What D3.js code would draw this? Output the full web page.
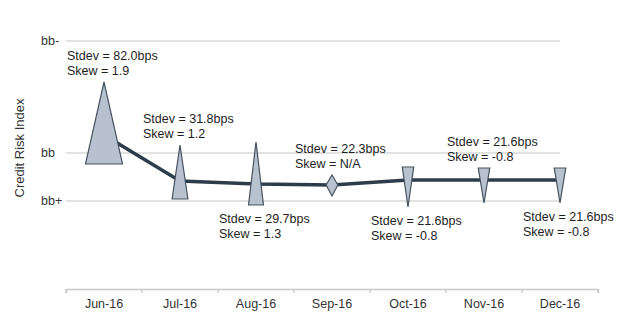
<!DOCTYPE html>
<html>
<head>
<meta charset="utf-8">
<script src="https://cdn.jsdelivr.net/npm/d3@7"></script>
<style>
  html, body { margin: 0; padding: 0; background: #fff; }
  svg { display: block; }
  text { font-family: "Liberation Sans", Arial, sans-serif; }
</style>
</head>
<body>
<svg id="chart" width="622" height="328"></svg>
<script>
// ---- data ----
const months = ["Jun-16", "Jul-16", "Aug-16", "Sep-16", "Oct-16", "Nov-16", "Dec-16"];
const indexValues = [1.375, 0.417, 0.354, 0.333, 0.4375, 0.4375, 0.4375];
const rangeHigh = [2.479, 1.167, 1.229, 0.542, 0.708, 0.6875, 0.6875];
const rangeLow  = [0.771, 0.042, -0.083, 0.104, -0.125, -0.042, -0.042];
const stdevBps = [82.0, 31.8, 29.7, 22.3, 21.6, 21.6, 21.6];
const skewVals = [1.9, 1.2, 1.3, null, -0.8, -0.8, -0.8];
const labelSide = ["above", "above", "below", "above", "below", "above", "below"];
const yTickValues = [0, 1, 3.333];
const yTickLabels = ["bb+", "bb", "bb-"];
const yTitle = "Credit Risk Index";

// ---- layout ----
const svg = d3.select("#chart");
const axisLeft = 66, axisRight = 598, axisY = 289;
const gridRight = 560;

const x = d3.scaleBand().domain(months).range([axisLeft, axisRight]).padding(0);
const y = d3.scaleLinear().domain([0, 3.333]).range([201, 41]);
const w = d3.scaleLinear().domain([21.6, 82]).range([11.5, 37]);

const cx = m => x(m) + x.bandwidth() / 2;

// gridlines
svg.append("g").selectAll("line").data(yTickValues).join("line")
  .attr("x1", axisLeft).attr("x2", gridRight)
  .attr("y1", d => y(d)).attr("y2", d => y(d))
  .attr("stroke", "#d9d9d9").attr("stroke-width", 1.3);

// y tick labels (left aligned)
svg.append("g").selectAll("text").data(yTickValues).join("text")
  .attr("x", 41).attr("y", d => y(d)).attr("dy", "0.35em")
  .attr("font-size", 12.5).attr("fill", "#333")
  .text((d, i) => yTickLabels[i]);

// y title
svg.append("text")
  .attr("transform", "translate(24,148) rotate(-90)")
  .attr("text-anchor", "middle")
  .attr("font-size", 13).attr("fill", "#333")
  .text(yTitle);

// x axis
const xAxis = d3.axisBottom(x).tickSize(4).tickSizeOuter(4).tickPadding(0);
const gx = svg.append("g").attr("transform", `translate(0,${axisY})`).call(xAxis);
gx.select(".domain").attr("stroke", "#c8c8c8").attr("stroke-width", 1.5);
gx.selectAll(".tick line").remove();
// boundary ticks between bands
const bounds = months.map(m => x(m)).concat([axisRight]);
svg.append("g").selectAll("line").data(bounds).join("line")
  .attr("x1", d => d).attr("x2", d => d)
  .attr("y1", axisY).attr("y2", axisY + 4)
  .attr("stroke", "#c8c8c8").attr("stroke-width", 1.3);
gx.selectAll(".tick text")
  .attr("font-family", "Liberation Sans, Arial, sans-serif")
  .attr("font-size", 12.5).attr("fill", "#333")
  .attr("y", 10).attr("dy", "0.71em");

// line
const data = months.map((m, i) => ({
  m, v: indexValues[i], hi: rangeHigh[i], lo: rangeLow[i],
  sd: stdevBps[i], sk: skewVals[i], side: labelSide[i]
}));
const line = d3.line().x(d => cx(d.m)).y(d => y(d.v));
svg.append("path").datum(data)
  .attr("d", line)
  .attr("fill", "none").attr("stroke", "#2e3d4c")
  .attr("stroke-width", 3.5).attr("stroke-linejoin", "round");

// glyphs
function glyphPath(d) {
  const c = cx(d.m), hw = w(d.sd) / 2, top = y(d.hi), bot = y(d.lo);
  if (d.sk === null) {
    const mid = y(d.v);
    return `M${c},${top}L${c + hw},${mid}L${c},${bot}L${c - hw},${mid}Z`;
  } else if (d.sk > 0) {
    return `M${c},${top}L${c + hw},${bot}L${c - hw},${bot}Z`;
  } else {
    return `M${c - hw},${top}L${c + hw},${top}L${c},${bot}Z`;
  }
}
svg.append("g").selectAll("path").data(data).join("path")
  .attr("d", glyphPath)
  .attr("fill", "#b7c1cf").attr("stroke", "#46525f")
  .attr("stroke-width", 1.2).attr("stroke-linejoin", "miter");

// labels
const lab = svg.append("g").selectAll("text").data(data).join("text")
  .attr("font-size", 12.5).attr("fill", "#1e1e1e")
  .attr("x", d => cx(d.m) - 37)
  .attr("y", d => d.side === "above" ? y(d.hi) - 26 : y(d.lo) + 14);
lab.append("tspan")
  .attr("dy", "0.35em")
  .text(d => `Stdev = ${d.sd.toFixed(1)}bps`);
lab.append("tspan")
  .attr("x", d => cx(d.m) - 37).attr("dy", 14.5)
  .text(d => `Skew = ${d.sk === null ? "N/A" : d.sk.toFixed(1)}`);
</script>
</body>
</html>
